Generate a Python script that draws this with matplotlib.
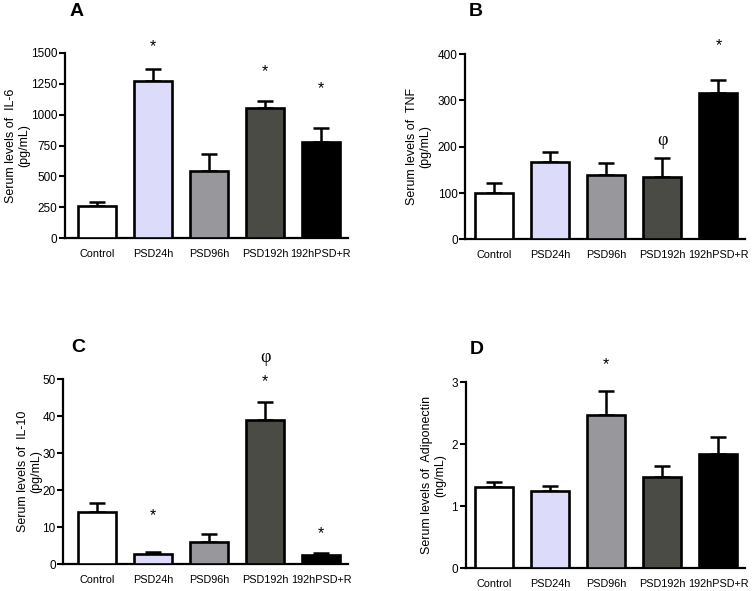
import matplotlib
matplotlib.use("Agg")
import matplotlib.pyplot as plt

plt.rcParams['font.family'] = ['Liberation Sans', 'DejaVu Sans']

groups = ["Control", "PSD24h", "PSD96h", "PSD192h", "192hPSD+R"]
colors = ["#ffffff", "#dcdcfa", "#98979c", "#4b4b45", "#000000"]

il6_mean = [262, 1273, 545, 1052, 775]
il6_sem = [28, 95, 135, 62, 113]
tnf_mean = [101, 166, 140, 134, 316]
tnf_sem = [20, 22, 25, 41, 27]
il10_mean = [14.1, 2.8, 6.1, 38.9, 2.5]
il10_sem = [2.5, 0.6, 2.0, 5.0, 0.45]
adipo_mean = [1.31, 1.25, 2.48, 1.48, 1.84]
adipo_sem = [0.09, 0.08, 0.38, 0.17, 0.28]

il6_marks = [(1, "*", 1549), (3, "*", 1352), (4, "*", 1214)]
tnf_marks = [(3, "φ", 214), (4, "*", 419)]
il10_marks = [(1, "*", 13.0), (3, "*", 49.3), (3, "φ", 55.9), (4, "*", 8.4)]
adipo_marks = [(2, "*", 3.28)]

fig = plt.figure(figsize=(7.56, 5.91), dpi=100)

panels = [
    dict(rect=[0.086, 0.597, 0.374, 0.3135], xlim=(-0.57, 4.48), mean=il6_mean, sem=il6_sem,
         ylim=1500, ticks=[0, 250, 500, 750, 1000, 1250, 1500],
         ylabel="Serum levels of  IL-6\n(pg/mL)", labx=-0.124, marks=il6_marks,
         letter="A", lpos=(77, 12)),
    dict(rect=[0.6155, 0.595, 0.3696, 0.3135], xlim=(-0.52, 4.47), mean=tnf_mean, sem=tnf_sem,
         ylim=400, ticks=[0, 100, 200, 300, 400],
         ylabel="Serum levels of  TNF\n(pg/mL)", labx=-0.123, marks=tnf_marks,
         letter="B", lpos=(476, 12)),
    dict(rect=[0.0837, 0.0452, 0.3766, 0.3135], xlim=(-0.60, 4.48), mean=il10_mean, sem=il10_sem,
         ylim=50, ticks=[0, 10, 20, 30, 40, 50],
         ylabel="Serum levels of  IL-10\n(pg/mL)", labx=-0.075, marks=il10_marks,
         letter="C", lpos=(78, 347)),
    dict(rect=[0.616, 0.0384, 0.369, 0.3147], xlim=(-0.51, 4.47), mean=adipo_mean, sem=adipo_sem,
         ylim=3, ticks=[0, 1, 2, 3],
         ylabel="Serum levels of  Adiponectin\n(ng/mL)", labx=-0.071, marks=adipo_marks,
         letter="D", lpos=(477, 349)),
]

x = list(range(len(groups)))
for p in panels:
    ax = fig.add_axes(p["rect"])
    ax.bar(x, p["mean"], width=0.68, color=colors, edgecolor="black", linewidth=1.9, zorder=3)
    ax.errorbar(x, p["mean"], yerr=[[0] * len(x), p["sem"]], fmt="none", ecolor="black",
                elinewidth=1.8, capsize=6, capthick=1.8, zorder=2)
    ax.set_xlim(*p["xlim"])
    ax.set_ylim(0, p["ylim"])
    ax.set_yticks(p["ticks"])
    ax.set_xticks(x)
    ax.set_xticklabels(groups, fontsize=7.8)
    ax.tick_params(axis="x", length=0, pad=8)
    ax.tick_params(axis="y", length=4, width=1.5, labelsize=8.5, pad=1.5)
    for s in ["top", "right"]:
        ax.spines[s].set_visible(False)
    for s in ["left", "bottom"]:
        ax.spines[s].set_linewidth(1.6)
    ax.set_ylabel(p["ylabel"], fontsize=9, linespacing=1.1)
    ax.yaxis.set_label_coords(p["labx"], 0.5)
    for i, sym, yv in p["marks"]:
        if sym == "*":
            ax.text(i, yv, sym, ha="center", va="center", fontsize=11.5, clip_on=False)
        else:
            ax.text(i, yv, sym, ha="center", va="center", fontsize=13,
                    family=["Liberation Serif", "DejaVu Serif"], clip_on=False)
    fig.text(p["lpos"][0] / 756, 1 - p["lpos"][1] / 591, p["letter"], fontsize=14,
             fontweight="bold", ha="center", va="center")

fig.savefig("out.png", dpi=100)
